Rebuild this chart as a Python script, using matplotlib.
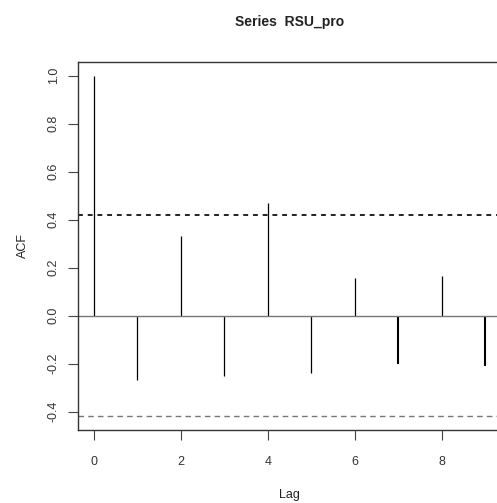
import numpy as np
import matplotlib.pyplot as plt

# ACF values
lags = [0, 1, 2, 3, 4, 5, 6, 7, 8, 9]
acf = [1.0, -0.27, 0.33, -0.25, 0.47, -0.24, 0.155, -0.20, 0.167, -0.21]
ci = 0.42
xticks = [0, 2, 4, 6, 8]
yticks = [-0.4, -0.2, 0.0, 0.2, 0.4, 0.6, 0.8, 1.0]

plt.rcParams['font.family'] = ['Liberation Sans', 'DejaVu Sans']

fig = plt.figure(figsize=(4.97, 5.03), dpi=100)
ax = fig.add_axes([78/497, 1 - 430/503, (501 - 78)/497, (430 - 62)/503])

# lines get drawn a bit heavier at lags 7 and 9 in the original
widths = [1.5 if l in (7, 9) else 0.9 for l in lags]
ax.vlines(lags, 0, acf, colors='black', linewidths=widths)
ax.axhline(0, color='#777777', lw=1)
ax.axhline(ci, color='#222222', lw=1.4, linestyle=(0, (2.5, 2.5)))
ax.axhline(-ci, color='#777777', lw=1, linestyle=(0, (4, 3)))

ax.set_xlim(-0.36, 9.36)
ax.set_ylim(-0.477, 1.057)
ax.set_xticks(xticks)
ax.set_yticks(yticks)
ax.set_yticklabels([f"{v:.1f}" for v in yticks], rotation=90, va='center')
ax.tick_params(direction='out', length=7, width=0.8, color='#444444',
               labelsize=9, labelcolor='#333333', pad=6)
ax.tick_params(axis='x', pad=12)
for s in ['left', 'top', 'bottom']:
    ax.spines[s].set_color('#333333')
    ax.spines[s].set_linewidth(1)
ax.spines['right'].set_visible(False)

ax.set_xlabel('Lag', fontsize=9, color='#222222', labelpad=15)
ax.set_ylabel('ACF', fontsize=9, color='#222222', labelpad=14)
fig.text(290/497, 1 - 22/503, 'Series  RSU_pro', ha='center', va='center',
         fontsize=10, fontweight='bold', color='#222222')

fig.savefig('out.png', dpi=100)
